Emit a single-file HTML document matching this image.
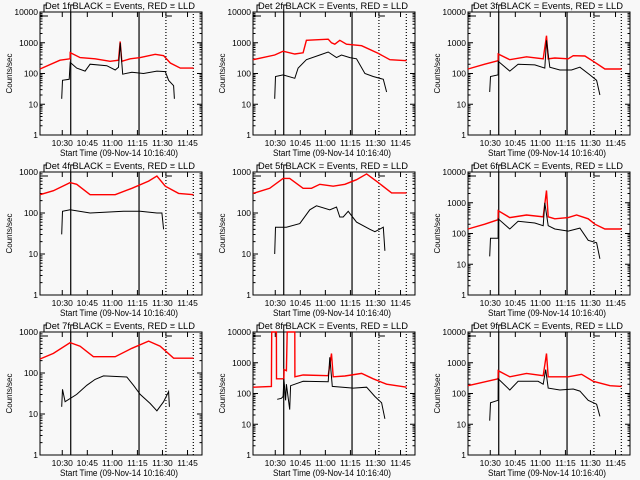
<!DOCTYPE html>
<html><head><meta charset="utf-8"><style>
html,body{margin:0;padding:0;background:#f8f8f8;}
svg{display:block;font-family:"Liberation Sans",sans-serif;}
</style></head><body>
<svg id="chart" width="640" height="480" viewBox="0 0 640 480" xmlns="http://www.w3.org/2000/svg">
<rect x="0" y="0" width="640" height="480" fill="#f8f8f8"/>
</svg>
<script>
const detNames = ["1f","2f","3f","4f","5f","6f","7f","8f","9f"];
const yDecades = [4,4,4,3,3,4,3,4,4];
const xTickLabels = ["10:30","10:45","11:00","11:15","11:30","11:45"];
const xTickMinutes = [13.33,28.33,43.33,58.33,73.33,88.33];
const markerSolid = [18.4,59.3];
const markerDotted = [75.4,91.8];

const red1T=[0,12,18,18.1,24,33,42,47,48,49,54,60,69,74,78,84,92];
const red1V=[140,270,300,480,330,300,250,270,1100,250,300,330,420,380,220,150,150];
const blk1T=[13,13.5,17.5,18.1,22,27,30,40,45,47,48,49.5,55,62,70,75,77,80,80.5];
const blk1V=[15,60,65,230,150,120,200,180,130,160,1000,95,110,100,120,115,60,40,15];

const red2T=[0,13,18,25,30,32,45,47,49,52,56,65,75,82,92];
const red2V=[280,400,530,430,470,1200,1300,1000,900,1200,900,800,450,280,260];
const blk2T=[13,13.5,18,25,27,32,40,45,50,53,58,62,67,72,78,80];
const blk2V=[15,80,90,70,150,280,400,500,330,400,330,300,100,80,65,25];

const red3T=[0,10,18,18.1,25,35,45,47,48,52,60,63,70,75,82,92];
const red3V=[140,200,260,430,280,350,300,1700,300,320,300,380,370,250,140,140];
const blk3T=[13,13.5,18,18.1,25,30,40,46,47,49,55,62,67,73,77,79];
const blk3V=[25,80,90,250,120,200,190,150,1200,160,130,130,160,90,60,20];

const red4T=[0,8,18,22,30,45,55,65,70,75,83,92];
const red4V=[280,350,550,500,280,280,400,600,800,450,300,280];
const blk4T=[13,13.5,18,30,50,60,70,73,74];
const blk4V=[30,110,120,100,110,110,100,100,40];

const red5T=[0,10,18,22,30,35,40,48,55,62,68,75,83,92];
const red5V=[300,400,700,700,400,400,500,450,500,650,900,550,310,310];
const blk5T=[13,13.5,20,28,34,38,46,50,52,54,57,62,70,73,78,79];
const blk5V=[10,45,45,55,120,150,120,140,80,80,110,60,40,35,45,12];

const red6T=[0,10,18,18.1,25,35,45,47,48,52,60,65,72,76,82,92];
const red6V=[140,200,280,550,330,400,350,2500,350,300,330,400,300,200,140,140];
const blk6T=[13,13.5,18,18.1,25,30,40,45,46,48,52,60,67,72,77,79];
const blk6V=[18,70,70,300,140,250,220,180,1000,180,140,120,150,60,50,15];

const red7T=[0,8,18,24,32,45,55,65,72,80,92];
const red7V=[220,300,550,450,250,250,400,600,450,230,230];
const blk7T=[13,13.5,15,22,28,33,38,52,56,60,66,70,74,77,77.5];
const blk7V=[15,40,20,30,50,70,85,80,50,30,18,12,20,35,15];

const red8T=[0,11,11.2,14,14.1,18.5,18.6,20,20.5,25,25.1,30,45,47,48,55,65,72,80,92];
const red8V=[160,170,10000,10000,300,300,600,550,10000,10000,350,400,380,2000,350,370,450,300,200,160];
const blk8T=[14.5,17,18,18.5,19.5,20,22,22.5,30,45,46,47.5,60,68,73,77,79];
const blk8V=[65,70,80,300,60,200,30,180,250,240,1500,170,150,160,80,50,15];

const red9T=[0,18,18.1,25,35,45,47,48,60,68,75,85,92];
const red9V=[180,300,550,350,450,380,2000,350,350,420,250,180,170];
const blk9T=[13,13.5,18,18.1,25,30,42,45,46.5,48,55,63,67,72,77,79];
const blk9V=[13,50,60,300,130,250,250,200,600,150,130,140,120,60,45,18];

const redT=[red1T,red2T,red3T,red4T,red5T,red6T,red7T,red8T,red9T];
const redV=[red1V,red2V,red3V,red4V,red5V,red6V,red7V,red8V,red9V];
const blkT=[blk1T,blk2T,blk3T,blk4T,blk5T,blk6T,blk7T,blk8T,blk9T];
const blkV=[blk1V,blk2V,blk3V,blk4V,blk5V,blk6V,blk7V,blk8V,blk9V];

const NS="http://www.w3.org/2000/svg";
const svg=document.getElementById("chart");
const colLeft=[40,253,468], rowTop=[0,160,320];
const W=162, TOTALMIN=97;
function mk(tag,attrs,parent){const e=document.createElementNS(NS,tag);for(const k in attrs)e.setAttribute(k,attrs[k]);parent.appendChild(e);return e;}

for(let p=0;p<9;p++){
  const L=colLeft[p%3], R=L+W, oy=rowTop[Math.floor(p/3)];
  const top=oy+12, bot=oy+135;
  const dec=yDecades[p];
  const xS=t=>L+t*W/TOTALMIN;
  const yS=v=>bot-Math.log10(Math.max(1,Math.min(v,Math.pow(10,dec))))/dec*(bot-top);
  const g=mk("g",{},svg);
  
  
  const box=mk("rect",{x:L,y:top,width:W,height:bot-top,fill:"none",stroke:"#000","stroke-width":1},g);
  
  
  for(let d=0;d<=dec;d++){
    const y=yS(Math.pow(10,d));
    const tk=mk("path",{d:`M${L} ${y}h5M${R} ${y}h-5`,stroke:"#000","stroke-width":1},g);
    
    
    const lb=mk("text",{x:L-2,y:y+3,"font-size":8.5,"text-anchor":"end",fill:"#000"},g);
    lb.textContent=String(Math.pow(10,d));
    
    
    if(d<dec){for(let m=2;m<10;m++){const ym=yS(m*Math.pow(10,d));
      const mt=mk("path",{d:`M${L} ${ym}h2.5M${R} ${ym}h-2.5`,stroke:"#000","stroke-width":1},g);
      
      }}
  }
  for(let i=0;i<xTickMinutes.length;i++){
    const x=xS(xTickMinutes[i]);
    const tk=mk("path",{d:`M${x} ${bot}v-5M${x} ${top}v5`,stroke:"#000","stroke-width":1},g);
    
    
    const lb=mk("text",{x:x,y:bot+11,"font-size":8.5,"text-anchor":"middle",fill:"#000"},g);
    lb.textContent=xTickLabels[i];
    
    
  }
  const xt=mk("text",{x:L+W/2-2,y:bot+21,"font-size":9,"text-anchor":"middle",fill:"#000",textLength:118,lengthAdjust:"spacingAndGlyphs"},g);
  xt.textContent="Start Time (09-Nov-14 10:16:40)";
  
  
  const yt=mk("text",{x:0,y:0,"font-size":8,"text-anchor":"middle",fill:"#000",transform:`translate(${L-28},${(top+bot)/2}) rotate(-90)`},g);
  yt.textContent="Counts/sec";
  
  
  const tt=mk("text",{x:L+W/2-1,y:oy+9,"font-size":9.5,"text-anchor":"middle",fill:"#000",textLength:150,lengthAdjust:"spacingAndGlyphs"},g);
  tt.textContent="Det "+detNames[p]+" BLACK = Events, RED = LLD";
  
  
  for(const t of markerSolid){const x=xS(t);
    const ml=mk("path",{d:`M${x} ${bot}V${top}`,stroke:"#000","stroke-width":1.2,fill:"none"},g);
    
    }
  for(const t of markerDotted){const x=xS(t);
    const ml=mk("path",{d:`M${x} ${bot}V${top}`,stroke:"#000","stroke-width":1.2,"stroke-dasharray":"1 2",fill:"none"},g);
    
    }
  const x0=xS(markerSolid[0]), xd=xS(markerDotted[0]);
  const b1=mk("path",{d:`M${L+4} ${top}V${oy+5}h3M${L} ${top+4}h8M${x0} ${top}V${oy+5}h3M${xd} ${top}v4h6M${xd+5} ${oy+5}h3`,stroke:"#000","stroke-width":1,fill:"none"},g);
  
  
  const line=(T,V)=>T.map((t,i)=>(i?"L":"M")+xS(t).toFixed(1)+" "+yS(V[i]).toFixed(1)).join("");
  const rl=mk("path",{d:line(redT[p],redV[p]),stroke:"#ff0000","stroke-width":1.4,fill:"none"},g);
  
  
  const bl=mk("path",{d:line(blkT[p],blkV[p]),stroke:"#000","stroke-width":1,fill:"none"},g);
  
  
}
</script>
</body></html>
